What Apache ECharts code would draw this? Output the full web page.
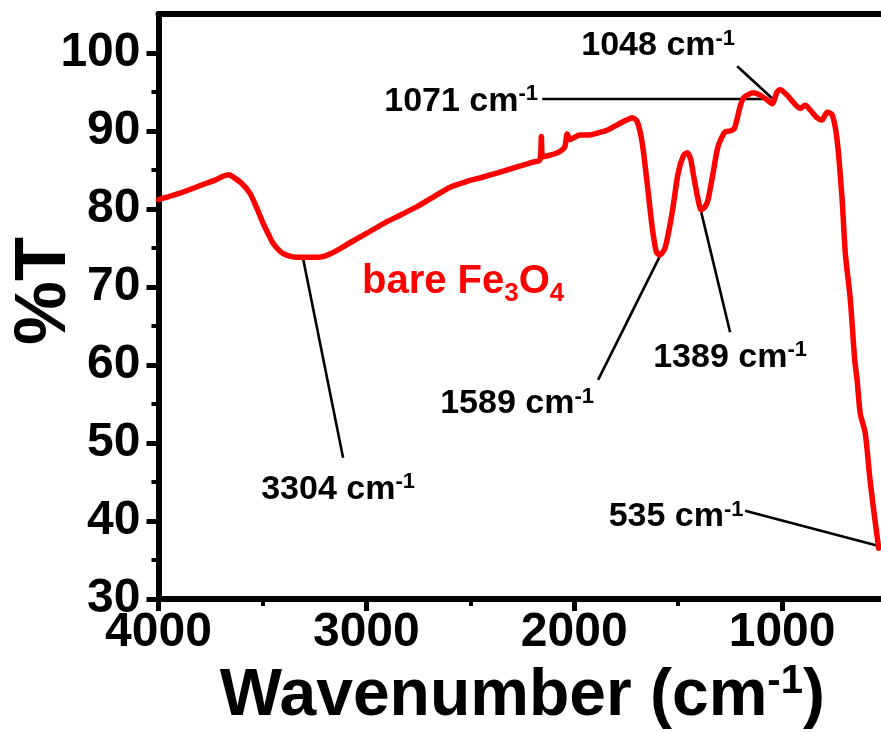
<!DOCTYPE html>
<html>
<head>
<meta charset="utf-8">
<script src="https://cdn.jsdelivr.net/npm/echarts@6/dist/echarts.min.js"></script>
<style>
  html, body { margin: 0; padding: 0; background: #ffffff; }
  #chart { width: 881px; height: 732px; }
</style>
</head>
<body>
<div id="chart"></div>
<script>
// FT-IR transmittance spectrum of bare Fe3O4
const wavenumber = [
  4000, 3950, 3900, 3848, 3780, 3728, 3690, 3660, 3641, 3600,
  3560, 3530, 3497, 3470, 3449, 3420, 3401, 3360, 3319, 3260,
  3208, 3170, 3141, 3070, 2997, 2920, 2838, 2756, 2680, 2597,
  2520, 2438, 2360, 2275, 2200, 2165, 2158, 2152, 2116, 2068,
  2045, 2034, 2020, 2005, 1972, 1924, 1880, 1842, 1779, 1740,
  1721, 1697, 1673, 1649, 1625, 1605, 1590, 1563, 1529, 1500,
  1475, 1457, 1440, 1428, 1404, 1389, 1370, 1356, 1332, 1308,
  1274, 1250, 1230, 1202, 1187, 1160, 1139, 1106, 1072, 1048,
  1024, 1009, 976, 947, 913, 889, 865, 832, 808, 783,
  759, 735, 711, 696, 672, 650, 639, 624, 600, 577,
  553, 535
];
const transmittance = [
  81.2, 81.6, 82.0, 82.5, 83.2, 83.7, 84.2, 84.4, 84.1, 83.3,
  82.0, 80.3, 78.2, 76.7, 75.6, 74.7, 74.3, 73.9, 73.8, 73.8,
  73.9, 74.3, 74.7, 75.8, 76.9, 78.1, 79.2, 80.3, 81.5, 82.8,
  83.5, 84.1, 84.7, 85.4, 86.0, 86.3, 89.3, 86.7, 86.9, 87.4,
  88.0, 89.6, 88.9, 89.1, 89.5, 89.5, 89.8, 90.1, 91.0, 91.5,
  91.7, 91.2, 88.5, 83.3, 77.7, 74.5, 74.1, 75.0, 79.5, 84.6,
  86.8, 87.2, 86.4, 84.6, 81.2, 79.9, 80.3, 81.2, 84.6, 88.0,
  89.9, 90.0, 90.3, 93.1, 94.2, 94.7, 94.9, 94.6, 94.0, 93.5,
  95.0, 95.3, 94.6, 93.7, 92.9, 93.3, 92.7, 91.7, 91.4, 92.4,
  92.1, 88.8, 81.2, 74.4, 68.5, 60.5, 58.1, 53.8, 51.3, 45.3,
  40.1, 36.5
];

// Axis ticks
const xMajorTicks = [4000, 3000, 2000, 1000];
const xMinorTicks = [3500, 2500, 1500];
const yMajorTicks = [30, 40, 50, 60, 70, 80, 90, 100];
const yMinorTicks = [35, 45, 55, 65, 75, 85, 95];

// Peak annotations: label value, leader start (on the band), leader end, label centre
const peakNames = ['3304', '1589', '1389', '1071', '1048', '535'];
const leaderStart = [[3304, 73.6], [1589, 73.9], [1389, 79.6], [2154, 94.1], [1216, 98.3], [1178, 41.3]];
const leaderEnd = [[3112, 48.1], [1885, 58.1], [1250, 64.2], [1071, 94.1], [1048, 94.2], [535, 36.8]];
const labelCentre = [[3136, 44.0], [2275, 55.0], [1250, 61.0], [2544, 93.8], [1596, 100.9], [1510, 40.5]];

const FONT = '"Liberation Sans", Arial, Helvetica, sans-serif';

const spectrum = wavenumber.map((w, i) => [w, transmittance[i]]);

const chart = echarts.init(document.getElementById('chart'), null, { renderer: 'canvas' });

const commonX = { type: 'value', min: 500, max: 4000, inverse: true, splitLine: { show: false } };
const commonY = { type: 'value', min: 30, max: 105, splitLine: { show: false } };
const axisLineStyle = { show: true, lineStyle: { color: '#000', width: 6 } };

const leaderSeries = peakNames.map((name, i) => ({
  type: 'line',
  xAxisIndex: 0, yAxisIndex: 0,
  data: [leaderStart[i], leaderEnd[i]],
  showSymbol: false,
  symbol: 'none',
  lineStyle: { color: '#000', width: 2.6 },
  silent: true,
  z: 3
}));

const labelSeries = {
  type: 'scatter',
  xAxisIndex: 0, yAxisIndex: 0,
  symbolSize: 0,
  silent: true,
  itemStyle: { opacity: 1 },
  data: labelCentre.map((c, i) => ({ value: c, name: peakNames[i] })),
  label: {
    show: true,
    position: 'inside',
    color: '#000',
    opacity: 1,
    formatter: p => '{n|' + p.name + ' cm}{s|-1}',
    rich: {
      n: { fontFamily: FONT, fontWeight: 'bold', fontSize: 34, color: '#000', lineHeight: 37 },
      s: { fontFamily: FONT, fontWeight: 'bold', fontSize: 22, color: '#000', lineHeight: 22, verticalAlign: 'top' }
    }
  },
  z: 4
};

chart.setOption({
  animation: false,
  backgroundColor: '#ffffff',
  grid: { left: 158.5, right: -5, top: 14, bottom: 133, containLabel: false, outerBoundsMode: 'none' },
  xAxis: [
    Object.assign({}, commonX, {
      position: 'bottom',
      axisLine: axisLineStyle,
      axisTick: { show: true, inside: false, length: 12, lineStyle: { color: '#000', width: 5 }, customValues: xMajorTicks },
      axisLabel: {
        show: true, margin: 10, customValues: xMajorTicks,
        formatter: v => String(v),
        fontFamily: FONT, fontWeight: 'bold', fontSize: 48, color: '#000'
      },
      name: '{t|Wavenumber (cm}{s|-1}{t|)}',
      nameLocation: 'middle',
      nameGap: 56,
      nameTextStyle: {
        rich: {
          t: { fontFamily: FONT, fontWeight: 'bold', fontSize: 66, color: '#000', lineHeight: 70 },
          s: { fontFamily: FONT, fontWeight: 'bold', fontSize: 40, color: '#000', lineHeight: 40, verticalAlign: 'top' }
        }
      }
    }),
    Object.assign({}, commonX, {
      position: 'bottom',
      axisLine: { show: false },
      axisTick: { show: true, inside: false, length: 7, lineStyle: { color: '#000', width: 4 }, customValues: xMinorTicks },
      axisLabel: { show: false }
    }),
    Object.assign({}, commonX, {
      position: 'top',
      axisLine: axisLineStyle,
      axisTick: { show: false },
      axisLabel: { show: false }
    })
  ],
  yAxis: [
    Object.assign({}, commonY, {
      position: 'left',
      axisLine: axisLineStyle,
      axisTick: { show: true, inside: false, length: 12, lineStyle: { color: '#000', width: 5 }, customValues: yMajorTicks },
      axisLabel: {
        show: true, margin: 18, customValues: yMajorTicks,
        fontFamily: FONT, fontWeight: 'bold', fontSize: 48, color: '#000'
      }
    }),
    Object.assign({}, commonY, {
      position: 'left',
      axisLine: { show: false },
      axisTick: { show: true, inside: false, length: 7, lineStyle: { color: '#000', width: 4 }, customValues: yMinorTicks },
      axisLabel: { show: false }
    }),
    Object.assign({}, commonY, {
      position: 'right',
      axisLine: axisLineStyle,
      axisTick: { show: false },
      axisLabel: { show: false }
    })
  ],
  graphic: [
    {
      // y-axis title
      type: 'text',
      x: 45,
      y: 291,
      rotation: Math.PI / 2,
      style: {
        text: '%T',
        fontFamily: FONT, fontWeight: 'bold', fontSize: 72, fill: '#000',
        align: 'center', verticalAlign: 'middle'
      },
      z: 10
    },
    {
      // sample name
      type: 'text',
      x: 362,
      y: 257,
      style: {
        text: '{m|bare Fe}{b|3}{m|O}{b|4}',
        rich: {
          m: { fontFamily: FONT, fontWeight: 'bold', fontSize: 40, fill: '#ff0000', lineHeight: 50 },
          b: { fontFamily: FONT, fontWeight: 'bold', fontSize: 26, fill: '#ff0000', lineHeight: 26, verticalAlign: 'bottom' }
        }
      },
      z: 10
    }
  ],
  series: [
    {
      type: 'line',
      name: 'bare Fe3O4',
      xAxisIndex: 0, yAxisIndex: 0,
      data: spectrum,
      showSymbol: false,
      symbol: 'none',
      smooth: 0.25,
      lineStyle: { color: '#ff0000', width: 5.5, join: 'round', cap: 'round' },
      z: 5
    }
  ].concat(leaderSeries).concat([labelSeries])
});
</script>
</body>
</html>
